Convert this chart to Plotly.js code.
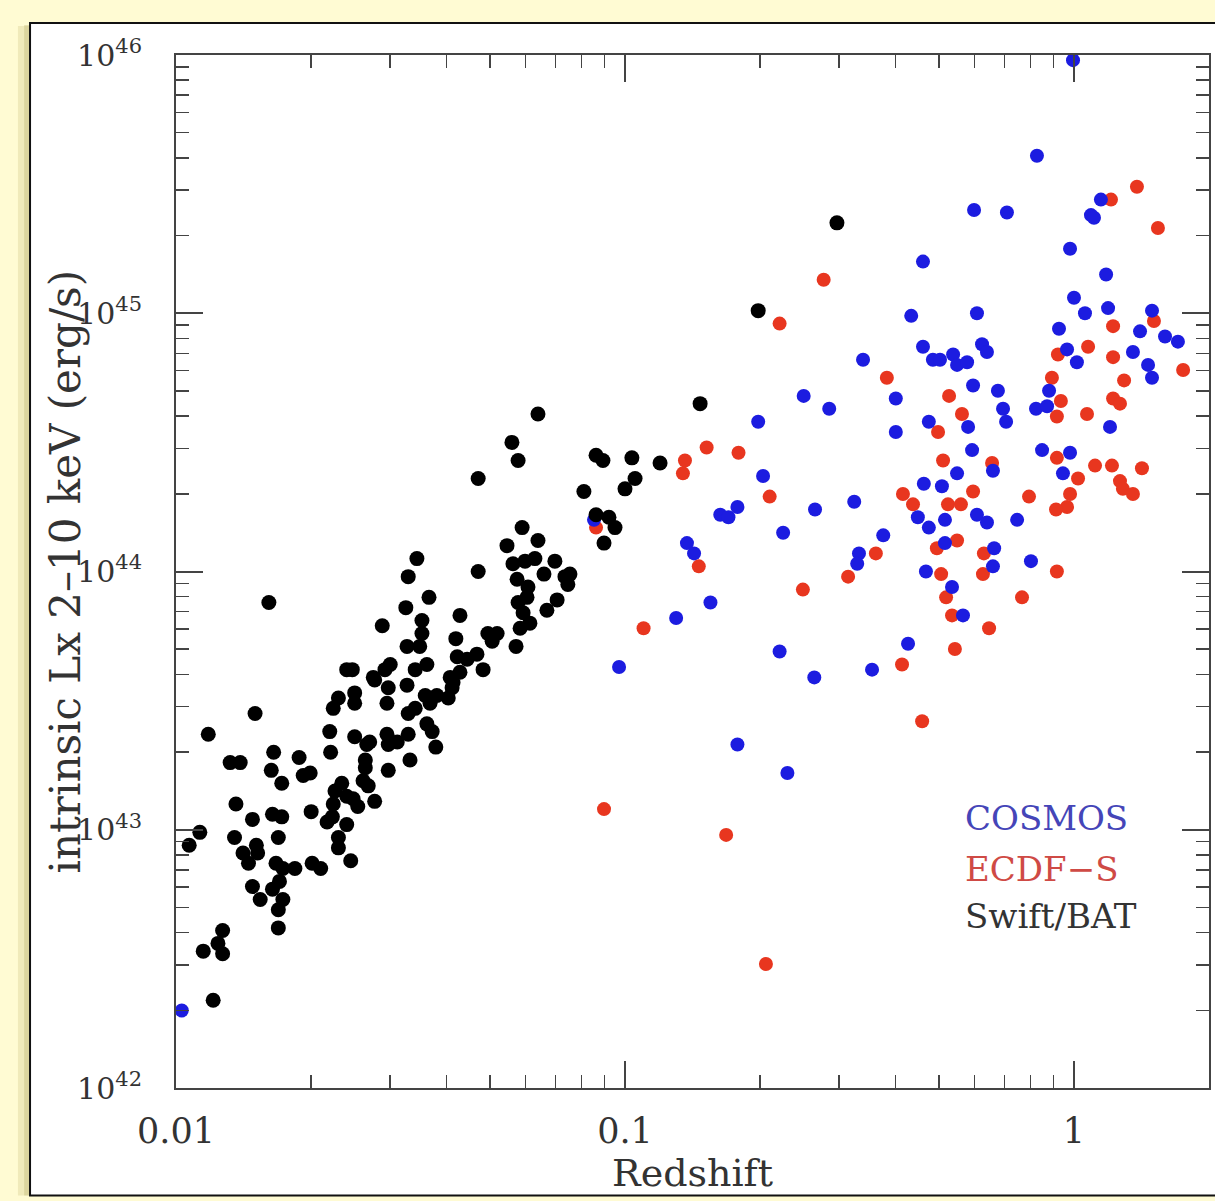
<!DOCTYPE html>
<html>
<head>
<meta charset="utf-8">
<script src="https://cdn.plot.ly/plotly-3.0.1.min.js"></script>
<style>
  html, body { margin: 0; padding: 0; background: #fffbd3; }
  #chart { width: 1215px; height: 1201px; }
</style>
</head>
<body>
<div id="chart"></div>
<script>
// ---- Swift/BAT (black) ----
const swiftZ = [0.0150,0.0118,0.0132,0.0139,0.0165,0.0163,0.0172,0.0188,0.0192,0.0199,
0.0136,0.0148,0.0164,0.0172,0.0169,0.0200,0.0113,0.0107,0.0135,0.0141,
0.0151,0.0152,0.0145,0.0167,0.0173,0.0184,0.0201,0.0210,0.0148,0.0154,
0.0164,0.0170,0.0173,0.0169,0.0169,0.0127,0.0124,0.0127,0.0115,0.0121,
0.0217,0.0223,0.0230,0.0230,0.0240,0.0245,0.0224,0.0226,0.0234,0.0240,
0.0248,0.0254,0.0220,0.0221,0.0224,0.0230,0.0250,0.0250,0.0250,0.0264,
0.0264,0.0266,0.0270,0.0261,0.0268,0.0277,0.0295,0.0297,0.0311,0.0329,
0.0297,0.0332,0.0295,0.0297,0.0327,0.0329,0.0341,0.0359,0.0368,0.0381,
0.0362,0.0372,0.0379,0.0404,0.0412,0.0277,0.0161,0.0344,0.0329,0.0366,
0.0325,0.0288,0.0353,0.0353,0.0327,0.0349,0.0429,0.0420,0.0423,0.0445,
0.0240,0.0247,0.0300,0.0292,0.0275,0.0341,0.0362,0.0429,0.0408,0.0414,
0.0640,0.0560,0.0578,0.0471,0.0862,0.0893,0.1036,0.1197,0.1053,0.1000,
0.0810,0.0862,0.0921,0.0950,0.0898,0.0590,0.0546,0.0640,0.0471,0.0563,
0.0599,0.0630,0.0698,0.0575,0.0608,0.0660,0.0735,0.0754,0.0746,0.0605,
0.0578,0.0593,0.0614,0.0584,0.0706,0.0670,0.0572,0.0495,0.0519,0.0506,
0.0468,0.0483,0.2965,0.198,0.147];
const swiftLogLx = [43.45,43.37,43.26,43.26,43.30,43.23,43.18,43.28,43.21,43.22,
43.10,43.04,43.06,43.05,42.97,43.07,42.99,42.94,42.97,42.91,
42.94,42.91,42.87,42.87,42.85,42.85,42.87,42.85,42.78,42.73,
42.77,42.80,42.73,42.69,42.62,42.61,42.56,42.52,42.53,42.34,
43.03,43.05,42.97,42.93,43.02,42.88,43.10,43.15,43.18,43.13,
43.12,43.09,43.38,43.30,43.47,43.51,43.53,43.49,43.36,43.27,
43.24,43.33,43.34,43.19,43.17,43.11,43.37,43.33,43.34,43.37,
43.23,43.27,43.49,43.55,43.56,43.45,43.47,43.52,43.49,43.52,
43.41,43.38,43.32,43.51,43.55,43.58,43.88,44.05,43.98,43.90,
43.86,43.79,43.81,43.76,43.71,43.71,43.83,43.74,43.67,43.66,
43.62,43.62,43.64,43.62,43.59,43.62,43.64,43.61,43.59,43.57,
44.61,44.50,44.43,44.36,44.45,44.43,44.44,44.42,44.36,44.32,
44.31,44.22,44.21,44.17,44.11,44.17,44.10,44.12,44.00,44.03,
44.04,44.05,44.04,43.97,43.94,43.99,43.98,43.99,43.95,43.90,
43.88,43.84,43.80,43.78,43.89,43.85,43.71,43.76,43.76,43.73,
43.68,43.62,45.35,45.01,44.65];

// ---- COSMOS (blue) ----
const cosmosZ = [0.0103,0.0853,0.1374,0.1425,0.130,0.0970,0.339,0.250,0.285,0.401,
0.401,0.198,0.203,0.265,0.324,0.225,0.163,0.170,0.178,0.155,
0.376,0.332,0.329,0.221,0.264,0.355,0.178,0.230,0.995,0.827,
1.148,1.091,1.108,0.599,0.709,0.980,0.461,1.179,1.000,1.058,
1.191,1.492,1.403,0.434,0.608,0.926,1.595,1.704,0.461,0.485,
0.503,0.538,0.549,0.578,0.624,0.640,0.965,1.353,1.015,1.462,
1.492,0.596,0.581,0.475,0.677,0.695,0.706,0.593,0.660,0.549,
0.463,0.508,0.449,0.475,0.516,0.608,0.640,0.747,0.516,0.664,
0.468,0.660,0.802,0.535,0.566,0.427,0.880,0.823,0.871,1.203,
0.849,0.980,0.945];
const cosmosLogLx = [42.30,44.20,44.11,44.07,43.82,43.63,44.82,44.68,44.63,44.67,
44.54,44.58,44.37,44.24,44.27,44.15,44.22,44.21,44.25,43.88,
44.14,44.07,44.03,43.69,43.59,43.62,43.33,43.22,45.98,45.61,
45.44,45.38,45.37,45.40,45.39,45.25,45.20,45.15,45.06,45.00,
45.02,45.01,44.93,44.99,45.00,44.94,44.91,44.89,44.87,44.82,
44.82,44.84,44.80,44.81,44.88,44.85,44.86,44.85,44.81,44.80,
44.75,44.72,44.56,44.58,44.70,44.63,44.58,44.47,44.39,44.38,
44.34,44.33,44.21,44.17,44.20,44.22,44.19,44.20,44.11,44.09,
44.00,44.02,44.04,43.94,43.83,43.72,44.70,44.63,44.64,44.56,
44.47,44.46,44.38];

// ---- ECDF-S (red) ----
const ecdfsZ = [0.0862,0.136,0.1346,0.110,0.277,0.221,0.383,0.152,0.179,0.210,
0.146,0.362,0.314,0.249,0.0898,0.168,0.206,1.381,1.209,1.538,
1.507,1.222,0.921,1.075,1.222,1.750,0.527,0.563,0.498,0.511,
0.657,0.596,0.416,0.438,0.524,0.560,0.495,0.549,0.630,0.506,
0.627,0.916,0.519,0.766,0.535,0.647,1.293,0.893,0.935,0.916,
1.222,1.266,1.069,0.916,1.021,1.114,1.215,1.417,1.266,1.285,
1.353,0.794,0.980,0.965,0.912,0.543,0.414,0.459];
const ecdfsLogLx = [44.17,44.43,44.38,43.78,45.13,44.96,44.75,44.48,44.46,44.29,
44.02,44.07,43.98,43.93,43.08,42.98,42.48,45.49,45.44,45.33,
44.97,44.95,44.84,44.87,44.83,44.78,44.68,44.61,44.54,44.43,
44.42,44.31,44.30,44.26,44.26,44.26,44.09,44.12,44.07,43.99,
43.99,44.00,43.90,43.90,43.83,43.78,44.74,44.75,44.66,44.60,
44.67,44.65,44.61,44.44,44.36,44.41,44.41,44.40,44.35,44.32,
44.30,44.29,44.30,44.25,44.24,43.70,43.64,43.42];

// ---- tick labels / texts ----
const xTickVals = [0.01, 0.1, 1];
const xTickText = ['0.01', '0.1', '1'];
const yTickExp = [42, 43, 44, 45, 46];
const legendNames = ['COSMOS', 'ECDF\u2212S', 'Swift/BAT'];
const yTitleText = 'intrinsic Lx 2\u201310 keV (erg/s)';

const toLx = a => a.map(v => Math.pow(10, v));

function minorVals(lo, hi) {
  const out = [];
  for (let e = lo; e < hi; e++) for (let d = 2; d <= 9; d++) out.push(d * Math.pow(10, e));
  return out;
}

const markerBase = { size: 14, line: { width: 0 } };
const traces = [
  { type: 'scatter', mode: 'markers', name: 'ECDF-S', x: ecdfsZ, y: toLx(ecdfsLogLx),
    marker: Object.assign({}, markerBase, { color: '#e8361f' }), showlegend: false, hoverinfo: 'x+y+name' },
  { type: 'scatter', mode: 'markers', name: 'COSMOS', x: cosmosZ, y: toLx(cosmosLogLx),
    marker: Object.assign({}, markerBase, { color: '#1c1ce0' }), showlegend: false, hoverinfo: 'x+y+name' },
  { type: 'scatter', mode: 'markers', name: 'Swift/BAT', x: swiftZ, y: toLx(swiftLogLx),
    marker: Object.assign({}, markerBase, { size: 15, color: '#000000' }), showlegend: false, hoverinfo: 'x+y+name' }
];

const axisCommon = {
  type: 'log',
  showgrid: false,
  zeroline: false,
  showline: true,
  linecolor: '#444',
  linewidth: 2,
  mirror: 'allticks',
  ticks: 'inside',
  ticklen: 27,
  tickwidth: 2,
  tickcolor: '#444',
  automargin: false,
  tickmode: 'array'
};

const layout = {
  width: 1215,
  height: 1201,
  paper_bgcolor: '#fffbd3',
  plot_bgcolor: '#ffffff',
  margin: { l: 176, r: 6, t: 55, b: 113 },
  font: { family: 'DejaVu Serif, serif', color: '#333' },
  xaxis: Object.assign({}, axisCommon, {
    range: [-2, 0.3007],
    tickvals: xTickVals,
    ticktext: xTickText,
    tickfont: { family: 'DejaVu Serif, serif', size: 35, color: '#333' },
    ticklabelstandoff: 11,
    minor: { tickmode: 'array', tickvals: minorVals(-2, 1), ticks: 'inside', ticklen: 13, tickwidth: 1.5, tickcolor: '#444' },
    title: { text: 'Redshift', font: { family: 'DejaVu Serif, serif', size: 38, color: '#333' }, standoff: 4 }
  }),
  yaxis: Object.assign({}, axisCommon, {
    range: [42, 46],
    tickvals: yTickExp.map(e => Math.pow(10, e)),
    ticktext: yTickExp.map(e => '10<sup>' + e + '</sup>'),
    tickfont: { family: 'DejaVu Serif, serif', size: 30, color: '#333' },
    ticklabelstandoff: 26,
    minor: { tickmode: 'array', tickvals: minorVals(42, 46), ticks: 'inside', ticklen: 13, tickwidth: 1.5, tickcolor: '#444' },
    title: { text: '' }
  }),
  shapes: [
    { type: 'rect', xref: 'paper', yref: 'paper', layer: 'below',
      x0: -0.1530, x1: -0.1413, y0: -0.104, y1: 1.028,
      fillcolor: 'rgba(170,160,70,0.18)', line: { width: 0 } },
    { type: 'rect', xref: 'paper', yref: 'paper', layer: 'below',
      x0: -0.1470, x1: -0.1413, y0: -0.104, y1: 1.029,
      fillcolor: 'rgba(150,140,60,0.22)', line: { width: 0 } },
    { type: 'rect', xref: 'paper', yref: 'paper', layer: 'below',
      x0: -0.1413, x1: 1.02, y0: -0.104, y1: 1.031,
      fillcolor: '#ffffff', line: { color: '#111', width: 2 } }
  ],
  annotations: [
    { xref: 'paper', yref: 'paper', x: -0.1065, y: 0.5, xanchor: 'center', yanchor: 'middle', showarrow: false,
      textangle: -90, text: yTitleText, font: { family: 'DejaVu Serif, serif', size: 42, color: '#333' } },
    { xref: 'paper', yref: 'paper', x: 0.7619, y: 0.2614, xanchor: 'left', yanchor: 'middle', showarrow: false,
      text: legendNames[0], font: { family: 'DejaVu Serif, serif', size: 34, color: '#4545b8' } },
    { xref: 'paper', yref: 'paper', x: 0.7619, y: 0.2120, xanchor: 'left', yanchor: 'middle', showarrow: false,
      text: legendNames[1], font: { family: 'DejaVu Serif, serif', size: 34, color: '#cf4a45' } },
    { xref: 'paper', yref: 'paper', x: 0.7619, y: 0.1665, xanchor: 'left', yanchor: 'middle', showarrow: false,
      text: legendNames[2], font: { family: 'DejaVu Serif, serif', size: 34, color: '#333' } }
  ]
};

Plotly.newPlot('chart', traces, layout, { displayModeBar: false, staticPlot: true });
</script>
</body>
</html>
